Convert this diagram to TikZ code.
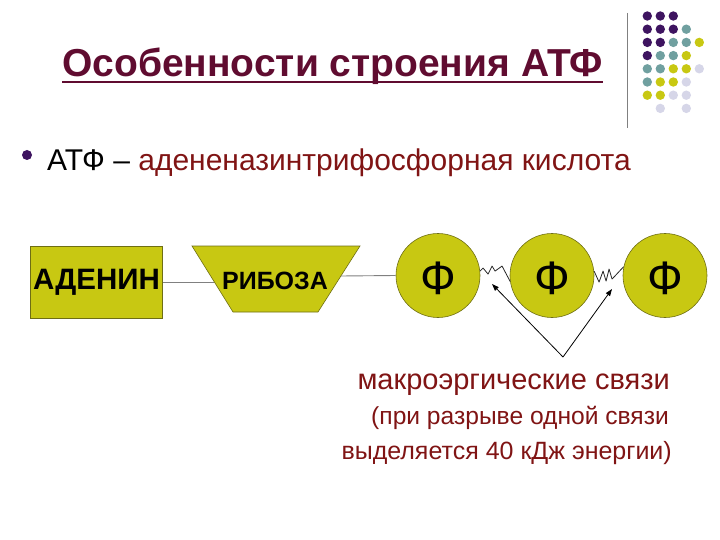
\documentclass[tikz,border=0pt]{standalone}
\usepackage{fontspec}
\setmainfont{Liberation Sans}
\usetikzlibrary{arrows.meta}
\definecolor{ylw}{RGB}{200,200,18}
\definecolor{ylwb}{RGB}{110,110,20}
\definecolor{prp}{RGB}{62,20,96}
\definecolor{tea}{RGB}{112,160,160}
\definecolor{lav}{RGB}{214,214,232}
\definecolor{ttl}{RGB}{96,12,48}
\definecolor{mar}{RGB}{128,20,20}
\definecolor{conn}{RGB}{128,128,128}
\begin{document}
\begin{tikzpicture}[x=1pt,y=-1pt,
  dotp/.style={circle,inner sep=0pt,minimum size=9.4pt,fill=#1},
  ybox/.style={draw=ylwb,line width=0.6pt,fill=ylw,inner sep=0pt},
  phos/.style={circle,draw=ylwb,line width=0.6pt,fill=ylw,minimum size=84pt,inner sep=0pt},
  phtxt/.style={inner sep=0pt,font=\fontsize{47}{50}\selectfont},
  connline/.style={draw=conn,line width=0.9pt},
  wave/.style={draw=black!85,line width=0.8pt,line join=round},
  arr/.style={draw=black,line width=0.8pt,-{Triangle[length=7pt,width=5pt]}},
  txt/.style={inner sep=0pt}
]
\useasboundingbox (0,0) rectangle (720,540);
% decoration: dots and bar
\draw[conn,line width=1pt] (627.3,13) coordinate (barT) -- (627.3,128) coordinate (barB);
\foreach \c/\r/\col in {0/0/prp,1/0/prp,2/0/prp,
  0/1/prp,1/1/prp,2/1/prp,3/1/tea,
  0/2/prp,1/2/prp,2/2/tea,3/2/tea,4/2/ylw,
  0/3/prp,1/3/tea,2/3/tea,3/3/ylw,
  0/4/tea,1/4/tea,2/4/ylw,3/4/ylw,4/4/lav,
  0/5/tea,1/5/ylw,2/5/ylw,3/5/lav,
  0/6/ylw,1/6/ylw,2/6/lav,3/6/lav,
  1/7/lav,3/7/lav}
  \node[dotp=\col] (d\c\r) at ({647.3+13*\c},{16+13.2*\r}) {};
% title
\node[txt,anchor=base west,text=ttl,font=\bfseries\fontsize{39}{44}\selectfont] (title) at (62,77) {Особенности строения АТФ};
\draw[ttl,line width=2.4pt] ([yshift=-5pt]title.base west) -- ([yshift=-5pt]title.base east);
% bullet line
\node[circle,fill=prp,inner sep=0pt,minimum size=10pt] (bul) at (27,155) {};
\node[txt,anchor=base west,font=\fontsize{30}{34}\selectfont] (atf) at (47,171) {АТФ – \textcolor{mar}{адененазинтрифосфорная кислота}};
% scheme
\node[ybox,minimum width=132pt,minimum height=72pt,font=\bfseries\fontsize{29.5}{34}\selectfont] (aden) at (96.5,282) {АДЕНИН};
\draw[ybox] (192,246) coordinate (rTL) -- (360,246) coordinate (rTR) -- (318,312) coordinate (rBR) -- (233,312) coordinate (rBL) -- cycle;
\node[txt,font=\bfseries\fontsize{25}{28}\selectfont] (rib) at (275,281) {РИБОЗА};
\coordinate (ribL) at (214.4,282);
\coordinate (ribR) at (340.9,276);
\node[phos] (f1) at (438,275.5) {};
\node[phos] (f2) at (552,275.5) {};
\node[phos] (f3) at (665,275.5) {};
\node[phtxt] (p1) at (438,278) {Ф};
\node[phtxt] (p2) at (552,278) {Ф};
\node[phtxt] (p3) at (665,278) {Ф};
\draw[connline] (aden.east) -- (ribL);
\draw[connline] (ribR) -- (f1.west);
\draw[wave] (f1.6) -- ++(3,-3) -- ++(5,6) -- ++(4,-8) -- ++(3,5) -- ++(7,-5) -- (f2.188);
\draw[wave] (f2.6) -- ++(5,11) -- ++(4,-11) -- ++(3,10) -- ++(3,-12) -- ++(3,10) -- (f3.168);
\coordinate (src) at (563,357);
\coordinate (t1) at (492,284);
\coordinate (t2) at (612,289);
\draw[arr] (src) -- (t1);
\draw[arr] (src) -- (t2);
% caption
\node[txt,anchor=base east,text=mar,font=\fontsize{29}{32}\selectfont] (c1) at (670,389) {макроэргические связи};
\node[txt,anchor=base east,text=mar,font=\fontsize{24.6}{28}\selectfont] (c2) at (669,424) {(при разрыве одной связи};
\node[txt,anchor=base east,text=mar,font=\fontsize{25}{28}\selectfont] (c3) at (672,459) {выделяется 40 кДж энергии)};
\end{tikzpicture}
\end{document}
